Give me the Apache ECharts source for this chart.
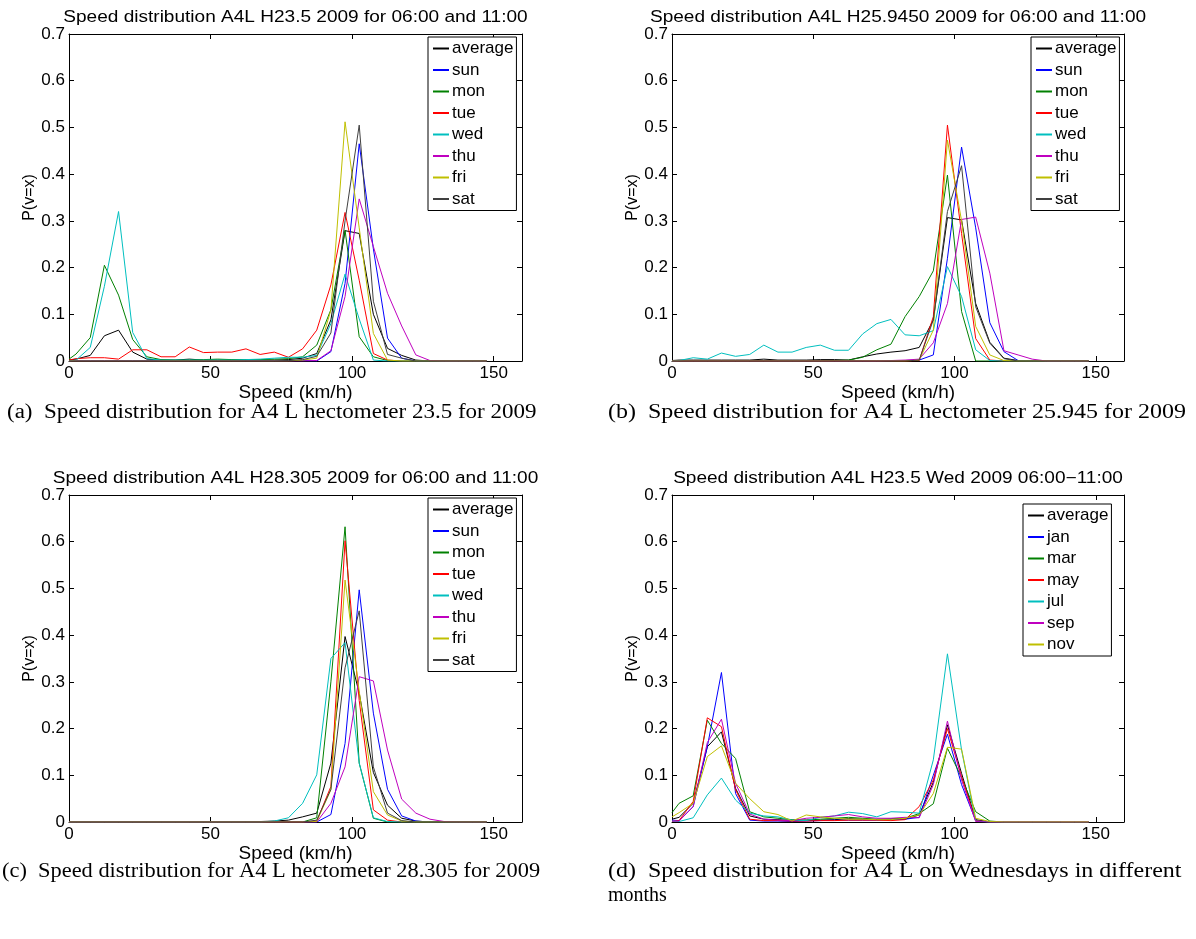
<!DOCTYPE html>
<html>
<head>
<meta charset="utf-8">
<script src="https://cdn.jsdelivr.net/npm/echarts@6/dist/echarts.min.js"></script>
<style>
  html, body { margin: 0; padding: 0; background: #fff; }
  #chart { width: 1196px; height: 939px; }
</style>
</head>
<body>
<div id="chart"></div>
<script>
// Speed bin centres (km/h)
const XS = [0, 2.5, 7.5, 12.5, 17.5, 22.5, 27.5, 32.5, 37.5, 42.5, 47.5, 52.5, 57.5, 62.5, 67.5,
            72.5, 77.5, 82.5, 87.5, 92.5, 97.5, 102.5, 107.5, 112.5, 117.5, 122.5, 127.5, 132.5,
            137.5, 142.5, 147.5];

const X_TICKS = [0, 50, 100, 150];
const Y_TICKS = [0, 0.1, 0.2, 0.3, 0.4, 0.5, 0.6, 0.7];

const DAY_NAMES = ['average', 'sun', 'mon', 'tue', 'wed', 'thu', 'fri', 'sat'];
const MONTH_NAMES = ['average', 'jan', 'mar', 'may', 'jul', 'sep', 'nov'];

// (a) hectometer 23.5
const avgA = [0.002,0.004,0.012,0.054,0.066,0.019,0.004,0.002,0.002,0.004,
              0.002,0.002,0.002,0.002,0.002,0.002,0.003,0.006,0.016,0.088,
              0.279,0.273,0.100,0.027,0.012,0.002,0,0,0,0,0];
const sunA = [0.001,0.001,0.001,0.001,0.001,0.001,0.001,0.001,0.001,0.001,
              0.001,0.001,0.001,0.001,0.001,0.001,0.001,0.001,0,0.020,
              0.166,0.465,0.240,0.049,0.006,0,0,0,0,0,0];
const monA = [0.004,0.015,0.050,0.205,0.141,0.046,0.009,0.003,0.002,0.002,
              0.003,0.004,0.003,0.003,0.003,0.004,0.005,0.009,0.034,0.110,
              0.280,0.052,0.009,0.001,0,0,0,0,0,0,0];
const tueA = [0.002,0.005,0.007,0.007,0.004,0.024,0.024,0.009,0.009,0.030,
              0.018,0.019,0.019,0.026,0.014,0.019,0.008,0.026,0.066,0.163,
              0.318,0.173,0.016,0.002,0,0,0,0,0,0,0];
const wedA = [0,0.002,0.029,0.160,0.320,0.061,0.005,0.002,0.002,0.002,
              0.002,0.002,0.002,0.003,0.004,0.006,0.008,0.008,0.012,0.080,
              0.186,0.090,0.002,0,0,0,0,0,0,0,0];
const thuA = [0,0,0,0,0,0,0,0,0,0,
              0,0,0,0,0,0,0,0,0.001,0.022,
              0.138,0.347,0.245,0.145,0.075,0.013,0.001,0,0,0,0];
const friA = [0,0,0,0,0,0,0,0,0,0,
              0,0,0,0,0,0,0,0.002,0.006,0.109,
              0.512,0.285,0.059,0.002,0,0,0,0,0,0,0];
const satA = [0,0,0,0,0,0,0,0,0,0,
              0,0,0,0,0,0,0.001,0.003,0.010,0.060,
              0.300,0.505,0.128,0.014,0.006,0,0,0,0,0,0];

// (b) hectometer 25.945
const avgB = [0.001,0.002,0.002,0.002,0.002,0.002,0.002,0.004,0.002,0.002,
              0.002,0.003,0.003,0.002,0.009,0.015,0.019,0.022,0.029,0.088,
              0.307,0.302,0.123,0.040,0.006,0.001,0,0,0,0,0];
const sunB = [0,0,0,0,0,0,0,0,0,0,
              0,0,0,0,0,0,0,0.001,0.002,0.013,
              0.220,0.458,0.285,0.082,0.020,0.001,0,0,0,0,0];
const monB = [0,0,0,0,0,0,0,0,0,0,
              0,0,0.001,0.002,0.008,0.024,0.036,0.095,0.138,0.193,
              0.398,0.106,0,0,0,0,0,0,0,0,0];
const tueB = [0,0,0,0,0,0,0,0,0,0,
              0,0,0,0,0,0,0,0,0.001,0.095,
              0.505,0.273,0.048,0.002,0,0,0,0,0,0,0];
const wedB = [0,0.001,0.007,0.004,0.017,0.010,0.014,0.034,0.019,0.019,
              0.029,0.034,0.023,0.023,0.058,0.080,0.089,0.056,0.054,0.065,
              0.202,0.138,0.024,0.001,0,0,0,0,0,0,0];
const thuB = [0,0,0,0,0,0,0,0,0,0,
              0,0,0,0,0,0,0.001,0.002,0.004,0.039,
              0.123,0.303,0.308,0.188,0.022,0.013,0.004,0,0,0,0];
const friB = [0,0,0,0,0,0,0,0,0,0,
              0,0,0,0,0,0,0,0,0.002,0.066,
              0.473,0.300,0.074,0.013,0.001,0,0,0,0,0,0];
const satB = [0,0,0,0,0,0,0,0,0,0,
              0,0,0,0,0,0,0,0,0.002,0.088,
              0.320,0.418,0.116,0.038,0.005,0,0,0,0,0,0];

// (c) hectometer 28.305
const avgC = [0,0,0,0,0,0,0,0,0,0,
              0,0,0,0.001,0.001,0.002,0.004,0.011,0.019,0.126,
              0.397,0.276,0.106,0.036,0.008,0.002,0,0,0,0,0];
const sunC = [0,0,0,0,0,0,0,0,0,0,
              0,0,0,0,0,0,0,0,0,0.016,
              0.168,0.497,0.233,0.070,0.013,0.002,0,0,0,0,0];
const monC = [0,0,0,0,0,0,0,0,0,0,
              0,0,0,0,0,0,0,0,0.009,0.300,
              0.632,0.126,0.008,0,0,0,0,0,0,0,0];
const tueC = [0,0,0,0,0,0,0,0,0,0,
              0,0,0,0,0,0,0,0,0.002,0.076,
              0.602,0.260,0.026,0.004,0,0,0,0,0,0,0];
const wedC = [0,0,0,0,0,0,0,0,0,0,
              0,0,0,0,0,0.002,0.009,0.040,0.101,0.350,
              0.384,0.126,0.009,0.001,0,0,0,0,0,0,0];
const thuC = [0,0,0,0,0,0,0,0,0,0,
              0,0,0,0,0,0,0,0,0,0.040,
              0.118,0.311,0.302,0.154,0.049,0.019,0.006,0.001,0,0,0];
const friC = [0,0,0,0,0,0,0,0,0,0,
              0,0,0,0,0,0,0,0,0.001,0.069,
              0.518,0.280,0.065,0.015,0.002,0,0,0,0,0,0];
const satC = [0,0,0,0,0,0,0,0,0,0,
              0,0,0,0,0,0,0,0,0.004,0.070,
              0.330,0.452,0.118,0.019,0.003,0,0,0,0,0,0];

// (d) hectometer 23.5, Wednesdays per month
const avgD = [0.006,0.010,0.040,0.161,0.193,0.072,0.013,0.006,0.005,0.003,
              0.004,0.004,0.005,0.007,0.006,0.005,0.005,0.006,0.015,0.085,
              0.208,0.104,0.005,0,0,0,0,0,0,0,0];
const janD = [0.004,0.003,0.033,0.161,0.320,0.061,0.004,0.002,0.002,0.001,
              0.002,0.003,0.004,0.004,0.004,0.004,0.005,0.006,0.010,0.100,
              0.188,0.080,0.003,0,0,0,0,0,0,0,0];
const marD = [0.020,0.040,0.056,0.218,0.168,0.136,0.022,0.011,0.008,0.005,
              0.004,0.006,0.008,0.010,0.008,0.006,0.007,0.008,0.018,0.039,
              0.158,0.095,0.022,0.002,0,0,0,0,0,0,0];
const mayD = [0.001,0.003,0.044,0.223,0.204,0.069,0.006,0.003,0.003,0.002,
              0.002,0.003,0.003,0.004,0.004,0.004,0.003,0.005,0.033,0.090,
              0.200,0.097,0.003,0,0,0,0,0,0,0,0];
const julD = [0.002,0.001,0.009,0.058,0.094,0.047,0.019,0.013,0.011,0.004,
              0.003,0.010,0.013,0.021,0.018,0.011,0.022,0.021,0.019,0.133,
              0.360,0.154,0.002,0,0,0,0,0,0,0,0];
const sepD = [0.002,0.002,0.033,0.170,0.220,0.083,0.017,0.006,0.004,0.003,
              0.008,0.010,0.013,0.016,0.011,0.008,0.008,0.010,0.009,0.080,
              0.216,0.090,0.001,0,0,0,0,0,0,0,0];
const novD = [0.011,0.020,0.040,0.140,0.163,0.083,0.050,0.022,0.016,0.002,
              0.015,0.011,0.008,0.006,0.006,0.005,0.005,0.008,0.015,0.061,
              0.160,0.156,0.008,0.001,0,0,0,0,0,0,0];

const TITLES = [
  'Speed distribution A4L H23.5 2009 for 06:00 and 11:00',
  'Speed distribution A4L H25.9450 2009 for 06:00 and 11:00',
  'Speed distribution A4L H28.305 2009 for 06:00 and 11:00',
  'Speed distribution A4L H23.5 Wed 2009 06:00\u221211:00'
];
const CAPTIONS = [
  '(a)  Speed distribution for A4 L hectometer 23.5 for 2009',
  '(b)  Speed distribution for A4 L hectometer 25.945 for 2009',
  '(c)  Speed distribution for A4 L hectometer 28.305 for 2009',
  '(d)  Speed distribution for A4 L on Wednesdays in different',
  'months'
];
const X_NAME = 'Speed (km/h)';
const Y_NAME = 'P(v=x)';

const COLORS = ['#000000', '#0000ff', '#008000', '#ff0000', '#00bfbf', '#bf00bf', '#bfbf00', '#404040'];

const panels = [
  { box: { left: 69,  top: 34,  width: 453, height: 327 }, names: DAY_NAMES,
    values: [avgA, sunA, monA, tueA, wedA, thuA, friA, satA], legendPos: { left: 428, top: 37 } },
  { box: { left: 672, top: 34,  width: 452, height: 327 }, names: DAY_NAMES,
    values: [avgB, sunB, monB, tueB, wedB, thuB, friB, satB], legendPos: { left: 1031, top: 37 } },
  { box: { left: 69,  top: 495, width: 453, height: 327 }, names: DAY_NAMES,
    values: [avgC, sunC, monC, tueC, wedC, thuC, friC, satC], legendPos: { left: 428, top: 498 } },
  { box: { left: 672, top: 495, width: 452, height: 327 }, names: MONTH_NAMES,
    values: [avgD, janD, marD, mayD, julD, sepD, novD], legendPos: { left: 1023, top: 504 } }
];

const FONT = 'Liberation Sans';
const grids = [], xAxes = [], yAxes = [], series = [], legends = [], graphics = [];

const tickStyle = { show: true, inside: true, length: 5, lineStyle: { color: '#000', width: 1 } };
const lineStyle = { show: true, onZero: false, lineStyle: { color: '#000', width: 1 } };

panels.forEach((p, g) => {
  grids.push(Object.assign({ containLabel: false }, p.box));
  // bottom and top x axes (top one only closes the box and carries ticks)
  xAxes.push({
    type: 'value', gridIndex: g, min: 0, max: 160, interval: 50, position: 'bottom',
    axisLine: lineStyle, axisTick: tickStyle, splitLine: { show: false },
    axisLabel: { color: '#000', fontSize: 17, fontFamily: FONT, margin: 4, showMaxLabel: false,
                 formatter: v => X_TICKS.includes(v) ? String(v) : '' },
    name: X_NAME, nameLocation: 'middle', nameGap: 20,
    nameTextStyle: { color: '#000', fontSize: 19, fontFamily: FONT }
  });
  xAxes.push({
    type: 'value', gridIndex: g, min: 0, max: 160, interval: 50, position: 'top',
    axisLine: lineStyle, axisTick: tickStyle, axisLabel: { show: false }, splitLine: { show: false }
  });
  yAxes.push({
    type: 'value', gridIndex: g, min: 0, max: 0.7, interval: 0.1, position: 'left',
    axisLine: lineStyle, axisTick: tickStyle, splitLine: { show: false },
    axisLabel: { color: '#000', fontSize: 17, fontFamily: FONT, margin: 4,
                 formatter: v => {
                   const t = Y_TICKS.find(k => Math.abs(k - v) < 1e-9);
                   return t === undefined ? '' : (t === 0 ? '0' : t.toFixed(1));
                 } },
    name: Y_NAME, nameLocation: 'middle', nameGap: 31, nameRotate: 90,
    nameTextStyle: { color: '#000', fontSize: 16, fontFamily: FONT }
  });
  yAxes.push({
    type: 'value', gridIndex: g, min: 0, max: 0.7, interval: 0.1, position: 'right',
    axisLine: lineStyle, axisTick: tickStyle, axisLabel: { show: false }, splitLine: { show: false }
  });

  p.names.forEach((name, i) => {
    series.push({
      type: 'line', name: name, xAxisIndex: 2 * g, yAxisIndex: 2 * g,
      symbol: 'none', showSymbol: false, silent: true, animation: false,
      color: COLORS[i], lineStyle: { color: COLORS[i], width: 1 },
      data: XS.map((x, k) => [x, p.values[i][k]])
    });
  });

  legends.push({
    data: p.names.map((n, i) => ({ name: n, icon: 'rect', itemStyle: { color: COLORS[i] } })),
    orient: 'vertical', left: p.legendPos.left, top: p.legendPos.top,
    selectedMode: false, backgroundColor: '#fff', borderColor: '#000', borderWidth: 1,
    padding: [3, 3, 3, 5], itemWidth: 16, itemHeight: 2, itemGap: 4.5,
    textStyle: { color: '#000', fontSize: 17, fontFamily: FONT, padding: [0, 0, 0, -2] }
  });

  graphics.push({
    type: 'text', x: p.box.left + p.box.width / 2, y: p.box.top - 16, scaleX: 1.19,
    style: { text: TITLES[g], font: '16px "' + FONT + '"', fill: '#000',
             textAlign: 'center', textVerticalAlign: 'middle' }
  });
});

// sub-figure captions
const capFont = '20px "Liberation Serif"';
[[7, 413, 1.15], [608, 413, 1.20], [2, 872, 1.12], [608, 872, 1.20], [608, 896, 1.0]].forEach((pos, i) => {
  graphics.push({
    type: 'text', x: pos[0], y: pos[1], scaleX: pos[2],
    style: { text: CAPTIONS[i], font: capFont, fill: '#000', textAlign: 'left', textVerticalAlign: 'middle' }
  });
});

const chart = echarts.init(document.getElementById('chart'), null, { renderer: 'canvas' });
chart.setOption({
  animation: false,
  backgroundColor: '#fff',
  textStyle: { fontFamily: FONT },
  grid: grids, xAxis: xAxes, yAxis: yAxes, series: series, legend: legends, graphic: graphics
});
</script>
</body>
</html>
